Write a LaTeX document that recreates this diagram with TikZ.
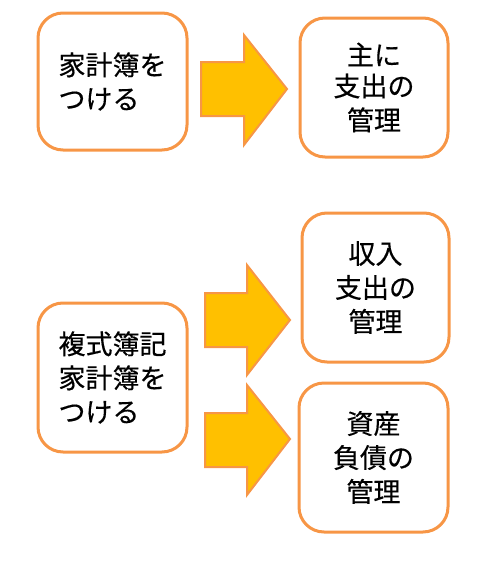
\documentclass[tikz,border=0pt]{standalone}
\usepackage{fontspec}
\setmainfont[FakeBold=0.4]{Noto Sans CJK JP}
\definecolor{boxline}{HTML}{F79646}
\definecolor{arrowfill}{HTML}{FFC000}
\begin{document}
\begin{tikzpicture}[x=1pt,y=-1pt,
  box/.style={draw=boxline, line width=3pt, rounded corners=25pt, fill=white,
    font=\fontsize{27}{34}\selectfont, inner sep=0pt},
  blockarrow/.style={draw=boxline, line width=2pt, fill=arrowfill, line join=miter}]
\useasboundingbox (0,0) rectangle (493,563);
% top row
\node[box, minimum width=149pt, minimum height=137pt, align=left] (b1) at (112.5,81.5) {家計簿を\\つける};
\node[box, minimum width=148pt, minimum height=139pt, align=center] (b2) at (374,87.5) {\raisebox{-3pt}{主に}\\支出の\\管理};
% bottom row
\node[box, minimum width=149pt, minimum height=149pt, align=left] (b3) at (112.5,377.5) {複式簿記\\家計簿を\\つける};
\node[box, minimum width=147pt, minimum height=149pt, align=center] (b4) at (375.5,287.5) {収入\\支出の\\管理};
\node[box, minimum width=149pt, minimum height=149pt, align=center] (b5) at (373.5,457.5) {資産\\負債の\\管理};
% block arrows
\draw[blockarrow] (201,62) -- (244,62) -- (244,35) -- (287,89) -- (244,145) -- (244,116) -- (201,116) -- cycle;
\draw[blockarrow] (205,293) -- (247,293) -- (247,265) -- (290,320) -- (247,375) -- (247,347) -- (205,347) -- cycle;
\draw[blockarrow] (205,413) -- (247,413) -- (247,385) -- (290,439) -- (247,495) -- (247,467) -- (205,467) -- cycle;
\end{tikzpicture}
\end{document}
